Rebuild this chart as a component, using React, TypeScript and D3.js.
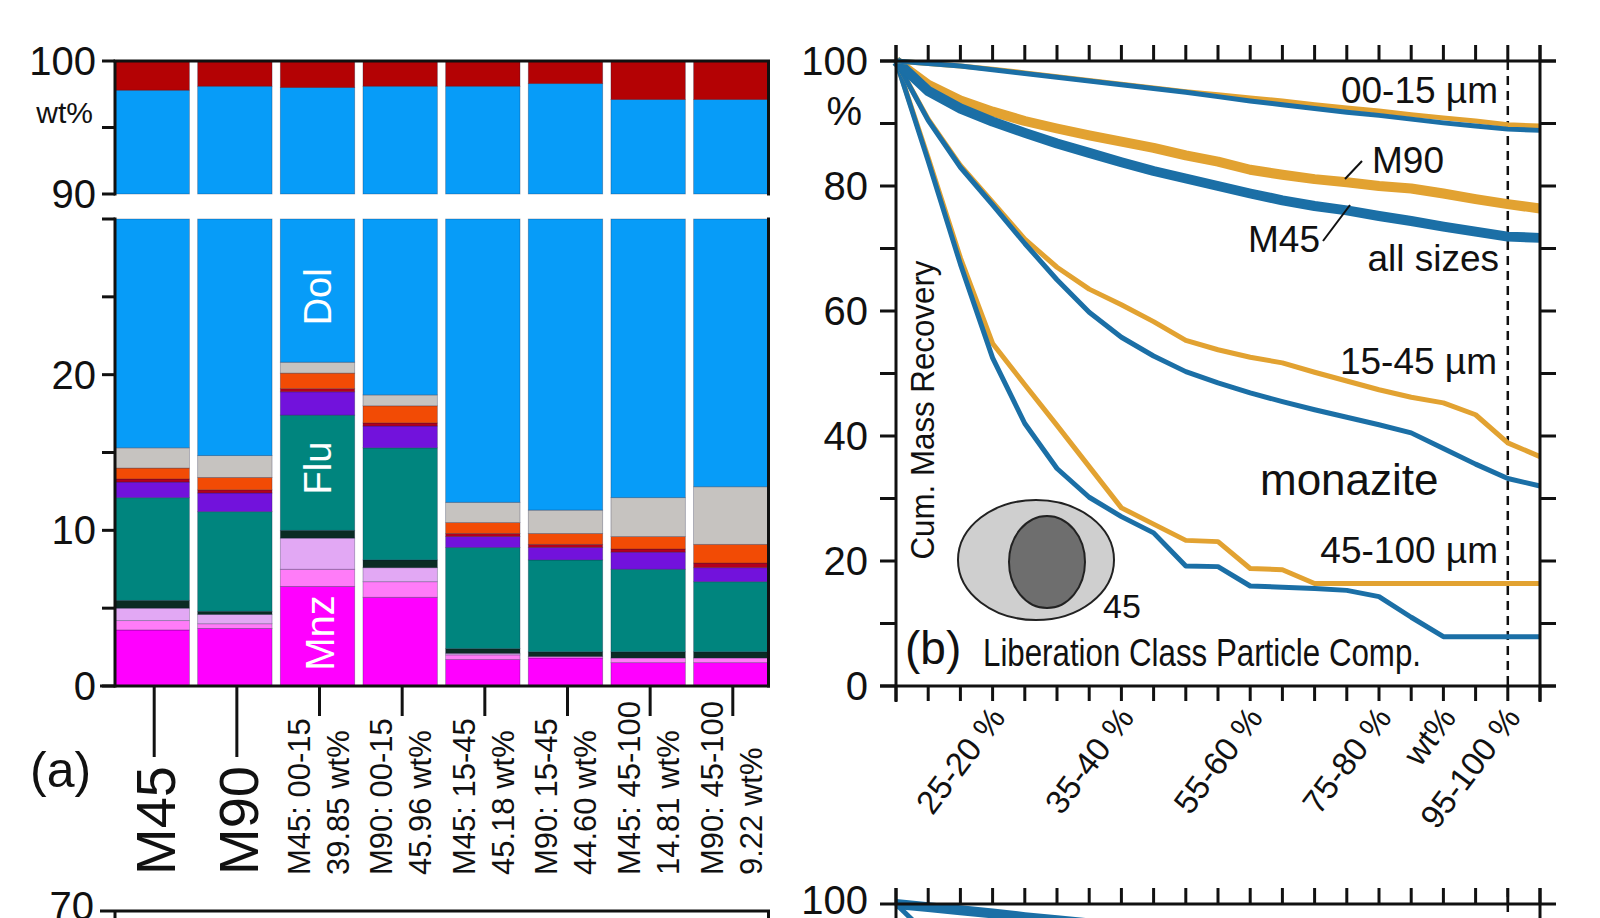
import React from "react";
import * as d3 from "d3";

// ================= Panel (a): stacked mineral composition =================
const barLine1 = ["M45", "M90", "M45: 00-15", "M90: 00-15", "M45: 15-45", "M90: 15-45", "M45: 45-100", "M90: 45-100"];
const barLine2 = ["", "", "39.85 wt%", "45.96 wt%", "45.18 wt%", "44.60 wt%", "14.81 wt%", "9.22 wt%"];

const mnz = [3.6, 3.7, 6.4, 5.7, 1.7, 1.8, 1.5, 1.5];
const pink = [0.6, 0.3, 1.1, 1.0, 0.3, 0.1, 0.3, 0.3];
const lav = [0.8, 0.6, 2.0, 0.9, 0.1, 0.0, 0.0, 0.0];
const dark = [0.5, 0.2, 0.5, 0.5, 0.3, 0.3, 0.4, 0.4];
const flu = [6.6, 6.4, 7.4, 7.2, 6.5, 5.9, 5.3, 4.5];
const purple = [1.0, 1.2, 1.5, 1.4, 0.7, 0.8, 1.1, 0.9];
const redThin = [0.2, 0.2, 0.2, 0.2, 0.2, 0.2, 0.2, 0.3];
const orange = [0.7, 0.8, 1.0, 1.1, 0.7, 0.7, 0.8, 1.2];
const gray = [1.3, 1.4, 0.7, 0.7, 1.3, 1.5, 2.5, 3.7];
const dol = [82.5, 83.3, 77.2, 79.4, 86.3, 87.0, 85.0, 84.3];
const other = [2.2, 1.9, 2.0, 1.9, 1.9, 1.7, 2.9, 2.9];

const layerKeys = ["mnz", "pink", "lav", "dark", "flu", "purple", "redThin", "orange", "gray", "dol", "other"];
const layerArrays = [mnz, pink, lav, dark, flu, purple, redThin, orange, gray, dol, other];
const layerColors = ["#ff00ff", "#ff7cf8", "#e2a8f4", "#0b2b24", "#00857e", "#7212dc", "#b3001e", "#f24b05", "#c6c3c0", "#079cf8", "#b40204"];

const yTicksLow = [0, 5, 10, 15, 20, 25, 30];
const yTicksHigh = [90, 95, 100];
const yLabelsA = [0, 10, 20, 90, 100];

// ================= Panel (b): cumulative mass recovery =================
const libPos = [0, 5, 10, 15, 20, 25, 30, 35, 40, 45, 50, 55, 60, 65, 70, 75, 80, 85, 90, 95, 100];
const libTickLabels = ["25-20 %", "35-40 %", "55-60 %", "75-80 %", "wt%", "95-100 %"];
const libTickLabelPos = [15, 35, 55, 75, 85, 95];
const yTicksB = [0, 10, 20, 30, 40, 50, 60, 70, 80, 90, 100];
const yLabelsB = [0, 20, 40, 60, 80, 100];

const m45_0015 = [100, 99.6, 99.2, 98.6, 98.0, 97.4, 96.8, 96.2, 95.6, 95.0, 94.3, 93.6, 93.0, 92.4, 91.8, 91.3, 90.7, 90.1, 89.6, 89.1, 88.9];
const m90_0015 = [100, 99.6, 99.2, 98.7, 98.1, 97.5, 96.9, 96.3, 95.7, 95.1, 94.6, 94.1, 93.6, 93.0, 92.5, 92.0, 91.4, 90.9, 90.4, 89.8, 89.6];
const m45_all = [100, 95.2, 92.4, 90.3, 88.5, 86.8, 85.3, 83.8, 82.4, 81.2, 80.0, 78.8, 77.7, 76.8, 76.1, 75.2, 74.4, 73.5, 72.7, 71.9, 71.7];
const m90_all = [100, 96.2, 93.7, 91.9, 90.4, 89.2, 88.1, 87.1, 86.1, 84.9, 83.9, 82.6, 81.8, 81.1, 80.6, 80.0, 79.6, 78.8, 77.9, 77.1, 76.4];
const m45_1545 = [100, 90.5, 83, 77, 70.8, 65, 59.8, 55.8, 52.8, 50.3, 48.5, 46.9, 45.5, 44.2, 43.0, 41.8, 40.5, 38.0, 35.5, 33.2, 32.0];
const m90_1545 = [100, 90.7, 83.3, 77.4, 71.5, 67, 63.5, 61, 58.3, 55.3, 53.8, 52.6, 51.7, 50.2, 48.8, 47.4, 46.2, 45.3, 43.4, 38.9, 36.7];
const m45_45100 = [100, 84, 67.5, 52.5, 42, 34.8, 30.2, 27.1, 24.5, 19.2, 19.1, 16.0, 15.8, 15.6, 15.3, 14.3, 11.0, 7.9, 7.9, 7.9, 7.9];
const m90_45100 = [100, 84.5, 68.5, 54.8, 48.2, 41.7, 35.1, 28.5, 25.9, 23.3, 23.1, 18.8, 18.6, 16.4, 16.4, 16.4, 16.4, 16.4, 16.4, 16.4, 16.4];

// partially visible lower panels
const lowerThick = [100, 99.5, 99.0, 98.5, 97.9, 97.4, 96.9];
const lowerSteep = [100, 95];

const BLUE = "#1b6fa6";
const GOLD = "#e2a231";
const FONT = "'Liberation Sans', Arial, Helvetica, sans-serif";

export default function App() {
  // ----- scales panel a -----
  const xA = d3.scaleBand<string>().domain(barLine1).range([115, 768]).paddingInner(0.1).paddingOuter(0);
  const yLow = d3.scaleLinear().domain([0, 30]).range([686, 219]);
  const yHigh = d3.scaleLinear().domain([90, 100]).range([194, 61]);

  const rows = barLine1.map((name, i) => {
    const r: any = { name };
    layerKeys.forEach((k, j) => (r[k] = layerArrays[j][i]));
    return r;
  });
  const stacked = d3.stack<any>().keys(layerKeys)(rows);

  // ----- scales panel b -----
  const xB = d3.scaleLinear().domain([0, 100]).range([896, 1540]);
  const yB = d3.scaleLinear().domain([0, 100]).range([686, 61]);
  const line = d3
    .line<number>()
    .x((_, i) => xB(libPos[i]))
    .y((d) => yB(d));

  const yB2 = d3.scaleLinear().domain([0, 100]).range([1529, 904]);
  const line2 = d3
    .line<number>()
    .x((_, i) => xB(libPos[i]))
    .y((d) => yB2(d));

  const seriesB = [
    { d: m90_45100, c: GOLD, w: 5 },
    { d: m45_45100, c: BLUE, w: 5 },
    { d: m90_1545, c: GOLD, w: 5 },
    { d: m45_1545, c: BLUE, w: 5 },
    { d: m90_all, c: GOLD, w: 10 },
    { d: m45_all, c: BLUE, w: 10 },
    { d: m90_0015, c: GOLD, w: 5 },
    { d: m45_0015, c: BLUE, w: 5 },
  ];

  const rects: JSX.Element[] = [];
  stacked.forEach((layer, li) => {
    layer.forEach((seg, bi) => {
      const x = xA(barLine1[bi])!;
      const bw = xA.bandwidth();
      const [a, b] = seg;
      const lo = Math.max(a, 0), hi = Math.min(b, 30);
      if (hi > lo) {
        rects.push(
          <rect key={`l${li}-${bi}`} x={x} y={yLow(hi)} width={bw} height={yLow(lo) - yLow(hi)}
            fill={layerColors[li]} stroke="#10183a" strokeOpacity={0.35} strokeWidth={0.8} />
        );
      }
      const lo2 = Math.max(a, 90), hi2 = Math.min(b, 100);
      if (hi2 > lo2) {
        rects.push(
          <rect key={`h${li}-${bi}`} x={x} y={yHigh(hi2)} width={bw} height={yHigh(lo2) - yHigh(hi2)}
            fill={layerColors[li]} stroke="#10183a" strokeOpacity={0.35} strokeWidth={0.8} />
        );
      }
    });
  });

  const axisStroke = { stroke: "#111", strokeWidth: 3, fill: "none" } as const;
  const bar3x = xA(barLine1[2])! + xA.bandwidth() / 2;

  return (
    <svg width={1600} height={918} style={{ position: "absolute", left: 0, top: 0, background: "#fff" }} fontFamily={FONT}>
      <rect x={0} y={0} width={1600} height={918} fill="#fff" />
      {/* ================= Panel (a) ================= */}
      {rects}
      {/* in-bar labels */}
      <text transform={`translate(${bar3x},${yLow(25.0)}) rotate(-90)`} textAnchor="middle" dominantBaseline="central" fill="#fff" fontSize={38}>Dol</text>
      <text transform={`translate(${bar3x},${yLow(14.0)}) rotate(-90)`} textAnchor="middle" dominantBaseline="central" fill="#fff" fontSize={38}>Flu</text>
      <text transform={`translate(${bar3x + 2},${yLow(3.4)}) rotate(-90)`} textAnchor="middle" dominantBaseline="central" fill="#fff" fontSize={40}>Mnz</text>

      {/* axes frame */}
      <line x1={113.5} x2={770} y1={61} y2={61} {...axisStroke} />
      <line x1={115} x2={115} y1={61} y2={yHigh(90) + 1.5} {...axisStroke} />
      <line x1={115} x2={115} y1={yLow(30) - 1.5} y2={687.5} {...axisStroke} />
      <line x1={768.5} x2={768.5} y1={61} y2={yHigh(90) + 1.5} {...axisStroke} />
      <line x1={768.5} x2={768.5} y1={yLow(30) - 1.5} y2={687.5} {...axisStroke} />
      <line x1={100} x2={770} y1={686} y2={686} {...axisStroke} />
      {yTicksLow.map((t) => (
        <line key={`tl${t}`} x1={102} x2={115} y1={yLow(t)} y2={yLow(t)} {...axisStroke} />
      ))}
      {yTicksHigh.map((t) => (
        <line key={`th${t}`} x1={102} x2={115} y1={yHigh(t)} y2={yHigh(t)} {...axisStroke} />
      ))}
      {yLabelsA.map((t) => (
        <text key={`ya${t}`} x={96} y={t >= 90 ? yHigh(t) : yLow(t)} textAnchor="end" dominantBaseline="central" fontSize={40} fill="#111">{t}</text>
      ))}
      <text x={93} y={112} textAnchor="end" dominantBaseline="central" fontSize={30} fill="#111">wt%</text>

      {/* x ticks & labels */}
      {barLine1.map((name, i) => {
        const cx = xA(name)! + xA.bandwidth() / 2 + 2;
        const big = barLine2[i] === "";
        return (
          <g key={`xa${i}`}>
            <line x1={cx} x2={cx} y1={686} y2={big ? 757 : 716} {...axisStroke} />
            {big ? (
              <text transform={`translate(${cx + 21},875) rotate(-90)`} textAnchor="start" fontSize={56} fill="#111">{name}</text>
            ) : (
              <>
                <text transform={`translate(${cx - 10},875) rotate(-90)`} textAnchor="start" fontSize={31} fill="#111">{name}</text>
                <text transform={`translate(${cx + 29},875) rotate(-90)`} textAnchor="start" fontSize={31} fill="#111">{barLine2[i]}</text>
              </>
            )}
          </g>
        );
      })}
      <text x={30} y={770} dominantBaseline="central" fontSize={50} fill="#111">(a)</text>

      {/* ================= Panel (b) ================= */}
      <line x1={xB(95)} x2={xB(95)} y1={61} y2={686} stroke="#111" strokeWidth={2.5} strokeDasharray="9 6" />
      {seriesB.map((s, i) => (
        <path key={`s${i}`} d={line(s.d)!} fill="none" stroke={s.c} strokeWidth={s.w} strokeLinejoin="round" strokeLinecap="butt" />
      ))}

      {/* frame */}
      <line x1={880} x2={1556} y1={61} y2={61} {...axisStroke} />
      <line x1={880} x2={1556} y1={686} y2={686} {...axisStroke} />
      <line x1={896} x2={896} y1={45} y2={702} {...axisStroke} />
      <line x1={1540} x2={1540} y1={45} y2={702} {...axisStroke} />
      {libPos.map((p) => (
        <g key={`lt${p}`}>
          <line x1={xB(p)} x2={xB(p)} y1={45} y2={61} {...axisStroke} />
          <line x1={xB(p)} x2={xB(p)} y1={686} y2={701} {...axisStroke} />
        </g>
      ))}
      {yTicksB.map((t) => (
        <g key={`yb${t}`}>
          <line x1={880} x2={896} y1={yB(t)} y2={yB(t)} {...axisStroke} />
          <line x1={1540} x2={1556} y1={yB(t)} y2={yB(t)} {...axisStroke} />
        </g>
      ))}
      {yLabelsB.map((t) => (
        <text key={`ybl${t}`} x={868} y={yB(t)} textAnchor="end" dominantBaseline="central" fontSize={40} fill="#111">{t}</text>
      ))}
      <text x={862} y={111} textAnchor="end" dominantBaseline="central" fontSize={40} fill="#111">%</text>
      {libTickLabels.map((lab, i) => (
        <text key={`xl${i}`} transform={`translate(${xB(libTickLabelPos[i]) + 14},718) rotate(-53)`} textAnchor="end" fontSize={33} fill="#111">{lab}</text>
      ))}

      {/* annotations */}
      <text x={1498} y={90} textAnchor="end" dominantBaseline="central" fontSize={37} fill="#111">00-15 µm</text>
      <text x={1372} y={160} dominantBaseline="central" fontSize={37} fill="#111">M90</text>
      <line x1={1345} x2={1362} y1={179} y2={161} stroke="#111" strokeWidth={2} />
      <text x={1248} y={239} dominantBaseline="central" fontSize={37} fill="#111">M45</text>
      <line x1={1323} x2={1350} y1={241} y2={205} stroke="#111" strokeWidth={2} />
      <text x={1499} y={258} textAnchor="end" dominantBaseline="central" fontSize={37} fill="#111">all sizes</text>
      <text x={1497} y={361} textAnchor="end" dominantBaseline="central" fontSize={37} fill="#111">15-45 µm</text>
      <text x={1260} y={479} dominantBaseline="central" fontSize={44} fill="#111">monazite</text>
      <text x={1498} y={550} textAnchor="end" dominantBaseline="central" fontSize={37} fill="#111">45-100 µm</text>
      <text transform="translate(922,410) rotate(-90)" textAnchor="middle" dominantBaseline="central" fontSize={34} textLength={299} lengthAdjust="spacingAndGlyphs" fill="#111">Cum. Mass Recovery</text>
      <ellipse cx={1036} cy={560} rx={78} ry={60} fill="#cfcfcf" stroke="#222" strokeWidth={2} />
      <ellipse cx={1047} cy={562} rx={38} ry={46} fill="#6e6e6e" stroke="#222" strokeWidth={2} />
      <text x={1103} y={606} dominantBaseline="central" fontSize={34} fill="#111">45</text>
      <text x={905} y={648} dominantBaseline="central" fontSize={46} fill="#111">(b)</text>
      <text x={983} y={653} dominantBaseline="central" fontSize={38} textLength={438} lengthAdjust="spacingAndGlyphs" fill="#111">Liberation Class Particle Comp.</text>

      {/* ================= partially visible lower panels ================= */}
      <text x={94} y={906} textAnchor="end" dominantBaseline="central" fontSize={40} fill="#111">70</text>
      <line x1={100} x2={770} y1={911} y2={911} {...axisStroke} />
      <line x1={115} x2={115} y1={911} y2={918} {...axisStroke} />
      <line x1={768.5} x2={768.5} y1={911} y2={918} {...axisStroke} />

      <path d={line2(lowerThick)!} fill="none" stroke={BLUE} strokeWidth={10} />
      <path d={line2(lowerSteep)!} fill="none" stroke={BLUE} strokeWidth={5} />
      <text x={868} y={900} textAnchor="end" dominantBaseline="central" fontSize={40} fill="#111">100</text>
      <line x1={880} x2={1556} y1={904} y2={904} {...axisStroke} />
      <line x1={896} x2={896} y1={888} y2={918} {...axisStroke} />
      <line x1={1540} x2={1540} y1={888} y2={918} {...axisStroke} />
      <line x1={xB(95)} x2={xB(95)} y1={888} y2={918} stroke="#111" strokeWidth={2.5} strokeDasharray="9 6" />
      {libPos.map((p) => (
        <line key={`lt2${p}`} x1={xB(p)} x2={xB(p)} y1={888} y2={904} {...axisStroke} />
      ))}
    </svg>
  );
}
